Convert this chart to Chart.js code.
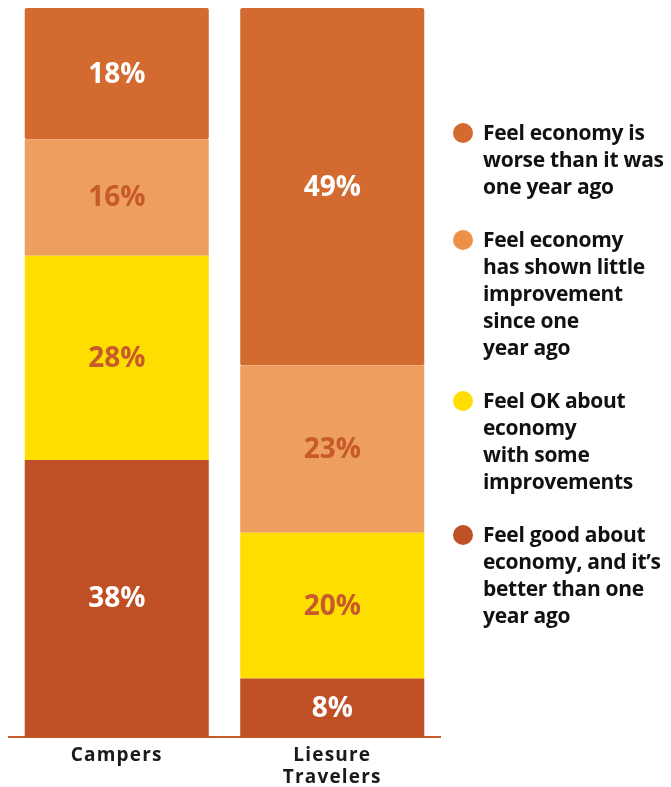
<!DOCTYPE html>
<html><head><meta charset="utf-8">
<script src="https://cdn.jsdelivr.net/npm/chart.js@4"></script>
<style>
html,body{margin:0;padding:0;background:#fff;}
#wrap{position:relative;width:671px;height:787px;}
#legend{position:absolute;left:452px;top:119px;font-family:"Open Sans",Lato,sans-serif;font-weight:700;font-size:21px;line-height:27px;color:#111;letter-spacing:-0.3px;}
.item{position:relative;padding-left:31px;margin-bottom:26px;white-space:nowrap;}
.dot{position:absolute;left:1px;top:4px;width:20px;height:20px;border-radius:50%;}
</style></head>
<body>
<div id="wrap"><canvas id="c" width="671" height="787"></canvas><div id="legend"></div></div>
<script>
const categories = ['Campers', ['Liesure', 'Travelers']];
const seriesNames = [
  ['Feel good about', 'economy, and it\u2019s', 'better than one', 'year ago'],
  ['Feel OK about', 'economy', 'with some', 'improvements'],
  ['Feel economy', 'has shown little', 'improvement', 'since one', 'year ago'],
  ['Feel economy is', 'worse than it was', 'one year ago']
];
const feelGood = [38, 8];
const feelOK = [28, 20];
const littleImprovement = [16, 23];
const worse = [18, 49];
const colors = ['#BF5025', '#FEDD00', '#EE9F60', '#D36A2F'];
const dotColors = ['#BF5025', '#FEDD00', '#EE9148', '#D36A2F'];
const labelColors = ['#ffffff', '#C65A2A', '#C65A2A', '#ffffff'];
const values = [feelGood, feelOK, littleImprovement, worse];

const datasets = values.map((v, i) => ({
  label: seriesNames[i].join(' '),
  data: v,
  backgroundColor: colors[i],
  borderWidth: 0,
  borderRadius: 2,
  borderSkipped: false,
  categoryPercentage: 1,
  barPercentage: 0.854
}));

const spacing = {
  id: 'spacing',
  beforeDraw(chart) { chart.ctx.letterSpacing = '1.2px'; },
  beforeDatasetsDraw(chart) { chart.ctx.letterSpacing = '0px'; }
};

const valueLabels = {
  id: 'valueLabels',
  afterDatasetsDraw(chart) {
    const ctx = chart.ctx;
    ctx.save();
    ctx.letterSpacing = '0px';
    ctx.font = '700 28px "Open Sans", Lato, sans-serif';
    ctx.textAlign = 'center';
    ctx.textBaseline = 'middle';
    chart.data.datasets.forEach((ds, i) => {
      const meta = chart.getDatasetMeta(i);
      meta.data.forEach((el, j) => {
        const p = el.getProps(['x', 'y', 'base'], true);
        ctx.fillStyle = labelColors[i];
        ctx.fillText(ds.data[j] + '%', p.x, (p.y + p.base) / 2 + 1);
      });
    });
    ctx.restore();
  }
};

new Chart(document.getElementById('c'), {
  type: 'bar',
  data: { labels: categories, datasets },
  options: {
    responsive: false,
    animation: false,
    layout: { padding: { left: 9, right: 231, top: 8, bottom: -10 } },
    plugins: { legend: { display: false }, tooltip: { enabled: false } },
    scales: {
      x: {
        stacked: true,
        grid: { display: true, drawOnChartArea: false, drawTicks: false, color: 'rgba(0,0,0,0)' },
        border: { display: true, color: '#C65A2A', width: 2 },
        ticks: { color: '#1a1a1a', padding: 8, font: { family: '"Open Sans", Lato, sans-serif', weight: '700', size: 19, lineHeight: 1.16 } }
      },
      y: { stacked: true, display: false, min: 0, max: 100 }
    }
  },
  plugins: [spacing, valueLabels]
});

const legend = document.getElementById('legend');
[3, 2, 1, 0].forEach(i => {
  const d = document.createElement('div');
  d.className = 'item';
  d.innerHTML = '<span class="dot" style="background:' + dotColors[i] + '"></span>' + seriesNames[i].join('<br>');
  legend.appendChild(d);
});
</script>
</body></html>
